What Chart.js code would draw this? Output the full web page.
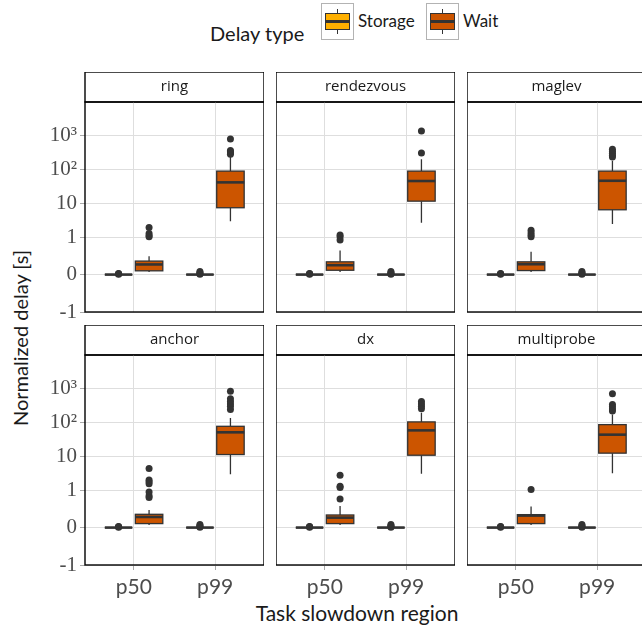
<!DOCTYPE html>
<html>
<head>
<meta charset="utf-8">
<script src="https://cdn.jsdelivr.net/npm/chart.js@4.4.1/dist/chart.umd.min.js"></script>
<style>
  html, body { margin: 0; padding: 0; background: #fff; }
  body { width: 642px; height: 627px; position: relative; overflow: hidden; font-family: Lato, sans-serif; }
  canvas { position: absolute; }
  .txt { position: absolute; white-space: nowrap; color: #1a1a1a; line-height: 1; }
  .key { position: absolute; top: 3px; width: 31px; height: 35px; border: 1px solid #b3b3b3; background: #fff; }
  .key .wh { position: absolute; left: 15px; width: 1.3px; top: 5px; height: 25px; background: #333; }
  .key .bx { position: absolute; left: 3px; right: 3px; top: 9px; bottom: 9px; border: 1.3px solid #333; }
  .key .md { position: absolute; left: 3px; right: 3px; top: 16.2px; height: 2.6px; background: #333; }
</style>
</head>
<body>
<div class="txt" id="legendTitle" style="left:210px; top:33px; font-size:20px; transform:translateY(-50%);">Delay type</div>
<div id="legendKeys"></div>
<div class="txt" style="left:20px; top:338px; font-size:20px; transform:translate(-50%,-50%) rotate(-90deg);">Normalized delay [s]</div>
<div class="txt" style="left:357px; top:612px; font-size:21px; transform:translate(-50%,-50%);">Task slowdown region</div>

<script>
// Facets, x categories and fill groups
const panelNames = ['ring', 'rendezvous', 'maglev', 'anchor', 'dx', 'multiprobe'];
const regions = ['p50', 'p99'];
const delayTypes = ['Storage', 'Wait'];
const delayColors = ['#FFB000', '#CC5500'];

// y axis breaks
const yTickValues = [-1, 0, 1, 10, 100, 1000];
const yTickLabels = ['-1', '0', '1', '10', '10²', '10³'];

// box stats: [lower whisker, Q1, median, Q3, upper whisker]
const storageP50 = [0, 0, 0, 0, 0];
const storageP99 = [0, 0, 0, 0, 0];
const storageP50Outliers = [0.01, 0.02, 0.03];
const storageP99Outliers = [0.01, 0.03, 0.05, 0.08];

const waitP50 = [
  [0.07, 0.10, 0.27, 0.36, 0.49],
  [0.07, 0.115, 0.25, 0.34, 0.64],
  [0.07, 0.107, 0.276, 0.34, 0.61],
  [0.07, 0.106, 0.283, 0.354, 0.47],
  [0.07, 0.106, 0.265, 0.336, 0.575],
  [0.07, 0.106, 0.32, 0.345, 0.56]
];
const waitP50Outliers = [
  [1.92, 1.28, 1.1, 1.02],
  [1.15, 1.02, 0.92],
  [1.6, 1.35, 1.15, 1.02],
  [4.3, 2.0, 1.75, 1.55, 0.95, 0.85, 0.8],
  [2.72, 1.3, 1.2, 0.76],
  [1.05]
];
const waitP99 = [
  [2.95, 7.3, 40.6, 87, 230],
  [2.63, 11.4, 44.5, 87, 193],
  [2.41, 6.36, 45.3, 87, 175],
  [2.91, 11.1, 49.9, 75, 132],
  [3.05, 10.6, 57, 101, 187],
  [3.12, 12.2, 42.6, 84, 166]
];
const waitP99Outliers = [
  [760, 350, 320, 295, 270],
  [1310, 295],
  [380, 330, 290, 255, 225],
  [797, 480, 400, 340, 290, 234],
  [400, 340, 290, 245],
  [681, 330, 280, 240, 210]
];

// pseudo-log mapping used by the y axis
const tr = v => (v >= 1 ? Math.log10(v) : (v - 1) * 1.1);

const dodge = 0.375;     // half of dodge width (0.75)
const boxWidth = 0.3375;

// layout of the facet grid
const colLeft = [85, 276, 467];
const panelW = 179;
const stripTop = [72, 325];
const stripH = 30;
const panelH = 210;

// legend keys
const keysEl = document.getElementById('legendKeys');
const keyLeft = [321, 426];
delayTypes.forEach((name, i) => {
  const k = document.createElement('div');
  k.className = 'key';
  k.style.left = keyLeft[i] + 'px';
  k.innerHTML = '<div class="wh"></div><div class="bx" style="background:' + delayColors[i] + '"></div><div class="md"></div>';
  keysEl.appendChild(k);
  const t = document.createElement('div');
  t.className = 'txt';
  t.style.cssText = 'left:' + (keyLeft[i] + 37) + 'px; top:20px; font-size:17px; transform:translateY(-50%);';
  t.textContent = name;
  keysEl.appendChild(t);
});

function drawBox(ctx, xs, ys, xc, stats, color) {
  const [lo, q1, med, q3, hi] = stats.map(v => ys.getPixelForValue(tr(v)));
  const x = xs.getPixelForValue(xc);
  const hw = xs.getPixelForValue(xc + boxWidth / 2) - x;
  ctx.save();
  ctx.strokeStyle = '#333333';
  ctx.lineWidth = 1.3;
  ctx.beginPath();
  ctx.moveTo(x, hi); ctx.lineTo(x, q3);
  ctx.moveTo(x, q1); ctx.lineTo(x, lo);
  ctx.stroke();
  ctx.fillStyle = color;
  ctx.fillRect(x - hw, q3, hw * 2, q1 - q3);
  ctx.strokeRect(x - hw, q3, hw * 2, q1 - q3);
  ctx.lineWidth = 2.6;
  ctx.beginPath();
  ctx.moveTo(x - hw, med); ctx.lineTo(x + hw, med);
  ctx.stroke();
  ctx.restore();
}

const facetPlugin = {
  id: 'facet',
  beforeDraw(chart) {
    const { ctx, chartArea: a } = chart;
    ctx.save();
    ctx.fillStyle = '#fff';
    ctx.fillRect(a.left, a.top - stripH, a.right - a.left, stripH);
    ctx.strokeStyle = '#000';
    ctx.lineWidth = 1.4;
    ctx.strokeRect(a.left, a.top - stripH, a.right - a.left, stripH);
    ctx.restore();
  },
  beforeDatasetsDraw(chart) {
    const p = chart.options.plugins.facet.panel;
    const xs = chart.scales.x, ys = chart.scales.y, ctx = chart.ctx;
    const storage = [storageP50, storageP99];
    const wait = [waitP50[p], waitP99[p]];
    regions.forEach((r, i) => {
      drawBox(ctx, xs, ys, i + 1 - dodge / 2, storage[i], delayColors[0]);
      drawBox(ctx, xs, ys, i + 1 + dodge / 2, wait[i], delayColors[1]);
    });
  },
  afterDraw(chart) {
    const { ctx, chartArea: a } = chart;
    ctx.save();
    ctx.strokeStyle = '#000';
    ctx.lineWidth = 1.4;
    ctx.strokeRect(a.left, a.top, a.right - a.left, a.bottom - a.top);
    ctx.restore();
  }
};

panelNames.forEach((name, p) => {
  const r = Math.floor(p / 3), c = p % 3;
  const left = c === 0 ? 0 : colLeft[c];
  const width = colLeft[c] + panelW - left;
  const bottomH = r === 1 ? 40 : 20;
  const canvas = document.createElement('canvas');
  canvas.width = width;
  canvas.height = stripH + panelH + bottomH;
  canvas.style.left = left + 'px';
  canvas.style.top = stripTop[r] + 'px';
  document.body.appendChild(canvas);

  const outliers = [];
  [storageP50Outliers, storageP99Outliers].forEach((list, i) => {
    list.forEach(v => outliers.push({ x: i + 1 - dodge / 2, y: tr(v) }));
  });
  [waitP50Outliers[p], waitP99Outliers[p]].forEach((list, i) => {
    list.forEach(v => outliers.push({ x: i + 1 + dodge / 2, y: tr(v) }));
  });

  new Chart(canvas, {
    type: 'scatter',
    data: {
      datasets: [{
        data: outliers,
        pointRadius: 3.5,
        pointHoverRadius: 3.5,
        pointBackgroundColor: '#333333',
        pointBorderWidth: 0
      }]
    },
    plugins: [facetPlugin],
    options: {
      responsive: false,
      animation: false,
      devicePixelRatio: 1,
      layout: { padding: 0, autoPadding: false },
      plugins: {
        legend: { display: false },
        tooltip: { enabled: false },
        facet: { panel: p },
        title: {
          display: true,
          text: name,
          fullSize: false,
          color: '#1a1a1a',
          font: { family: 'Open Sans', size: 15, weight: 'normal', lineHeight: 1.2 },
          padding: { top: 6, bottom: 6 }
        }
      },
      scales: {
        x: {
          type: 'linear',
          min: 0.4,
          max: 2.6,
          afterBuildTicks: s => { s.ticks = regions.map((_, i) => ({ value: i + 1 })); },
          afterFit: s => { s.height = bottomH; },
          border: { display: false },
          grid: { color: '#dedede', lineWidth: 1, drawTicks: r === 1, tickLength: 5, tickColor: '#aaaaaa' },
          ticks: {
            display: r === 1,
            padding: 5,
            color: '#4d4d4d',
            font: { family: 'Lato', size: 21 },
            callback: (v, i) => regions[i]
          }
        },
        y: {
          min: tr(-1),
          max: 3.97,
          afterBuildTicks: s => { s.ticks = yTickValues.map(v => ({ value: tr(v) })); },
          afterFit: s => { s.width = c === 0 ? colLeft[0] : 0; },
          border: { display: false },
          grid: { color: '#dedede', lineWidth: 1, drawTicks: c === 0, tickLength: 5, tickColor: '#aaaaaa' },
          ticks: {
            display: c === 0,
            padding: 3,
            color: '#4d4d4d',
            font: { family: 'Liberation Serif', size: 21 },
            callback: (v, i) => yTickLabels[i]
          }
        }
      }
    }
  });
});
</script>
</body>
</html>
